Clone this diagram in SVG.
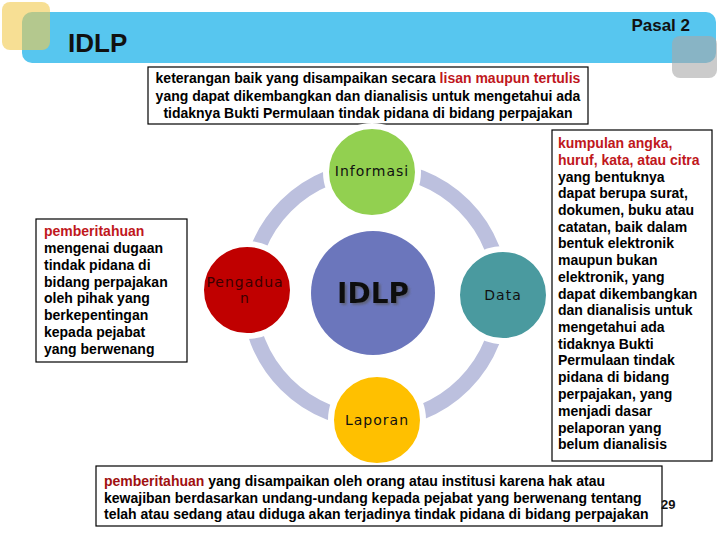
<svg xmlns="http://www.w3.org/2000/svg" width="720" height="540" viewBox="0 0 720 540">
<defs>
<filter id="sh" x="-20%" y="-20%" width="140%" height="140%">
<feDropShadow dx="2" dy="2" stdDeviation="1" flood-color="#555" flood-opacity="0.6"/>
</filter>
</defs>
<style>
.box{fill:#fff;stroke:#000;stroke-width:1.2}
.t{font-family:"Liberation Sans",Arial,sans-serif;font-weight:bold;font-size:14px;fill:#000}
.red{fill:#c0171c}
.dred{fill:#a01010}
.node{stroke:#fff;stroke-width:6}
.nl{font-family:"DejaVu Sans",Verdana,sans-serif;font-size:14px;letter-spacing:1px;text-anchor:middle;fill:#111}
</style>
<rect width="720" height="540" fill="#fff"/>
<g id="header">
<rect x="22" y="12" width="694" height="51" rx="10" fill="#57c6ef"/>
<rect x="2" y="2" width="48" height="48" rx="8" fill="#f2c94c" fill-opacity="0.6"/>
<rect x="672" y="36" width="45" height="42" rx="8" fill="#a8a8a8" fill-opacity="0.6"/>
<text x="68" y="52" font-family="Liberation Sans,Arial,sans-serif" font-weight="bold" font-size="26" fill="#111">IDLP</text>
<text x="690" y="31" font-family="Liberation Sans,Arial,sans-serif" font-weight="bold" font-size="17" fill="#111" text-anchor="end">Pasal 2</text>
</g>
<g id="def-top">
<rect class="box" x="148" y="67" width="440" height="57"/>
<text class="t" text-anchor="middle" x="368" y="83">keterangan baik yang disampaikan secara <tspan class="red">lisan maupun tertulis</tspan></text>
<text class="t" text-anchor="middle" x="368" y="101">yang dapat dikembangkan dan dianalisis untuk mengetahui ada</text>
<text class="t" text-anchor="middle" x="368" y="118">tidaknya Bukti Permulaan tindak pidana di bidang perpajakan</text>
</g>
<g id="connectors">
<circle cx="375" cy="295" r="126" fill="none" stroke="#bcc0de" stroke-width="15"/>
</g>
<g id="n-informasi">
<circle class="node" cx="372" cy="172" r="46" fill="#92d050"/>
<text class="nl" x="372" y="176">Informasi</text>
</g>
<g id="n-pengaduan">
<circle class="node" cx="247" cy="290" r="46" fill="#c00000"/>
<text class="nl" x="245" y="287" style="fill:#3a0000">Pengadua</text>
<text class="nl" x="245" y="303" style="fill:#3a0000">n</text>
</g>
<g id="n-data">
<circle class="node" cx="503" cy="295" r="46" fill="#4a9a9f"/>
<text class="nl" x="503" y="300">Data</text>
</g>
<g id="n-laporan">
<circle class="node" cx="377" cy="420" r="46" fill="#ffc000"/>
<text class="nl" x="377" y="425">Laporan</text>
</g>
<g id="n-idlp">
<circle cx="373" cy="293" r="62" fill="#6b76bc"/>
<text x="373" y="303" font-family="DejaVu Sans,Verdana,sans-serif" font-weight="bold" font-size="28" text-anchor="middle" fill="#111" filter="url(#sh)">IDLP</text>
</g>
<g id="def-left">
<rect class="box" x="36" y="219" width="151" height="143"/>
<text class="t" x="44" y="236"><tspan class="red">pemberitahuan</tspan></text>
<text class="t" x="44" y="253">mengenai dugaan</text>
<text class="t" x="44" y="270">tindak pidana di</text>
<text class="t" x="44" y="287">bidang perpajakan</text>
<text class="t" x="44" y="303">oleh pihak yang</text>
<text class="t" x="44" y="320">berkepentingan</text>
<text class="t" x="44" y="337">kepada pejabat</text>
<text class="t" x="44" y="354">yang berwenang</text>
</g>
<g id="def-right">
<rect class="box" x="552" y="130" width="160" height="331"/>
<text class="t" x="558" y="148"><tspan class="red">kumpulan angka,</tspan></text>
<text class="t" x="558" y="165"><tspan class="red">huruf, kata, atau citra</tspan></text>
<text class="t" x="558" y="182">yang bentuknya</text>
<text class="t" x="558" y="198">dapat berupa surat,</text>
<text class="t" x="558" y="215">dokumen, buku atau</text>
<text class="t" x="558" y="232">catatan, baik dalam</text>
<text class="t" x="558" y="248">bentuk  elektronik</text>
<text class="t" x="558" y="265">maupun bukan</text>
<text class="t" x="558" y="282">elektronik, yang</text>
<text class="t" x="558" y="299">dapat dikembangkan</text>
<text class="t" x="558" y="315">dan dianalisis untuk</text>
<text class="t" x="558" y="332">mengetahui ada</text>
<text class="t" x="558" y="349">tidaknya  Bukti</text>
<text class="t" x="558" y="365">Permulaan tindak</text>
<text class="t" x="558" y="382">pidana di bidang</text>
<text class="t" x="558" y="399">perpajakan, yang</text>
<text class="t" x="558" y="416">menjadi dasar</text>
<text class="t" x="558" y="433">pelaporan yang</text>
<text class="t" x="558" y="449">belum  dianalisis</text>
</g>
<g id="def-bottom">
<rect class="box" x="96" y="466" width="566" height="60"/>
<text class="t" x="104" y="486"><tspan class="dred">pemberitahuan</tspan> yang disampaikan oleh orang atau institusi karena hak atau</text>
<text class="t" x="104" y="503">kewajiban berdasarkan undang-undang kepada pejabat yang berwenang tentang</text>
<text class="t" x="104" y="519">telah atau sedang atau diduga akan terjadinya tindak pidana di bidang perpajakan</text>
</g>
<text x="661" y="509" font-family="Liberation Sans,Arial,sans-serif" font-weight="bold" font-size="13" fill="#111">29</text>
</svg>
